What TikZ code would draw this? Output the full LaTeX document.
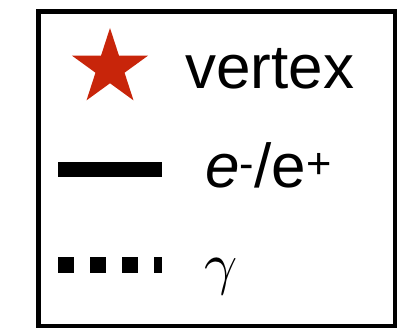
\documentclass[tikz,border=0pt]{standalone}
\usepackage{fontspec}
\setmainfont{Liberation Sans}
\usepackage{tikz}
\usetikzlibrary{shapes.geometric}
\definecolor{cStar}{HTML}{C8250A}
\definecolor{cInk}{HTML}{000000}
\tikzset{
  frame/.style   ={draw=cInk,line width=4.7pt},
  vstar/.style   ={star,star points=5,star point ratio=2.618,fill=cStar,
                   draw=none,inner sep=0pt,minimum size=80pt},
  lbl/.style     ={anchor=base west,inner sep=0pt,font=\fontsize{62}{70}\selectfont},
  glbl/.style    ={anchor=base west,inner sep=0pt,font=\fontsize{10}{12}\selectfont,scale=5.8},
  eline/.style   ={cInk,line width=15pt,line cap=butt},
  gline/.style   ={cInk,line width=16pt,line cap=butt,dash pattern=on 16pt off 16pt},
}
\begin{document}
\begin{tikzpicture}[x=1pt,y=1pt]
\useasboundingbox (0,0) rectangle (398,329);
\draw[frame] (38.5,3) rectangle (395,317.5);
% vertex
\node[vstar] (vx) at (110,261) {};
\node[lbl] (vxlbl) at (185,240) {vertex};
% electrons
\coordinate (ea) at (58,159.5);
\coordinate (eb) at (162,159.5);
\draw[eline] (ea) -- (eb);
\node[lbl] (elbl) at (205,141) {\textit{e}\textsuperscript{-}/e\textsuperscript{+}};
% photons
\coordinate (ga) at (58,64);
\coordinate (gb) at (162,64);
\draw[gline] (ga) -- (gb);
\node[glbl] (gam) at (203,46) {$\gamma$};
\end{tikzpicture}
\end{document}
